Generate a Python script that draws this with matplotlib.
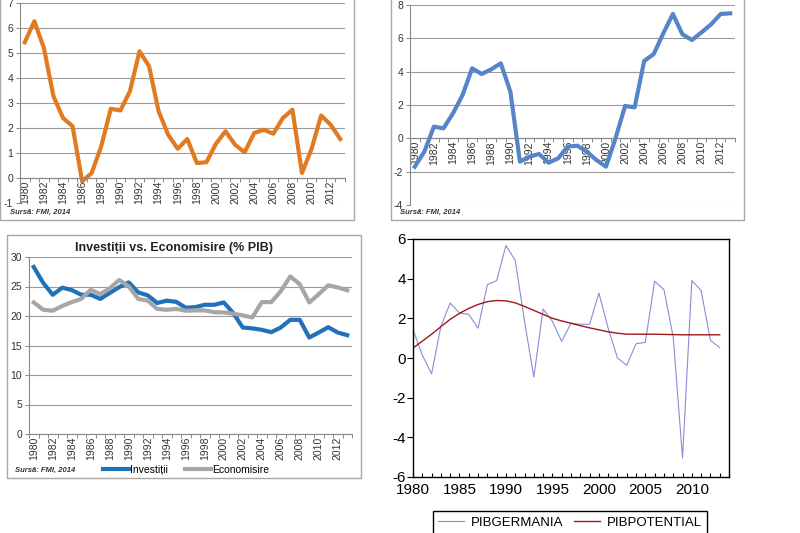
import matplotlib
matplotlib.use('Agg')
import matplotlib.pyplot as plt
from matplotlib.patches import Rectangle
from matplotlib.ticker import MultipleLocator

plt.rcParams['font.family'] = ['Liberation Sans', 'DejaVu Sans']
plt.rcParams['axes.unicode_minus'] = False

W, H = 800, 533

years = list(range(1980, 2014))

# sus stanga - inflatie
inflatie = [5.43, 6.27, 5.2, 3.27, 2.4, 2.07, -0.13, 0.2, 1.27, 2.77, 2.7, 3.47,
            5.07, 4.47, 2.67, 1.73, 1.17, 1.56, 0.6, 0.63, 1.37, 1.87, 1.33, 1.03,
            1.8, 1.93, 1.77, 2.4, 2.73, 0.2, 1.16, 2.5, 2.13, 1.56]

# sus dreapta - cont curent
cont_curent = [-1.7, -0.8, 0.7, 0.6, 1.5, 2.6, 4.2, 3.86, 4.14, 4.5, 2.8, -1.4,
               -1.1, -0.94, -1.46, -1.2, -0.5, -0.44, -0.8, -1.3, -1.7, 0.0,
               1.94, 1.86, 4.64, 5.06, 6.3, 7.46, 6.24, 5.9, 6.36, 6.84, 7.46, 7.5]

# jos stanga - investitii vs economisire
investitii = [28.3, 25.6, 23.6, 24.8, 24.4, 23.6, 23.6, 22.9, 23.9, 24.9, 25.7, 24.0,
              23.5, 22.2, 22.6, 22.4, 21.4, 21.5, 21.9, 21.9, 22.3, 20.5, 18.05, 17.9,
              17.66, 17.26, 18.05, 19.35, 19.35, 16.35, 17.2, 18.1, 17.2, 16.75]
economisire = [22.3, 21.05, 20.9, 21.7, 22.35, 22.9, 24.45, 23.7, 24.7, 26.1, 25.0, 22.9,
               22.6, 21.2, 21.05, 21.2, 20.9, 20.95, 20.95, 20.65, 20.6, 20.4, 20.1, 19.75,
               22.35, 22.35, 24.2, 26.7, 25.4, 22.3, 23.7, 25.2, 24.85, 24.35]

# jos dreapta - PIB efectiv vs potential
pib_germania = [1.43, 0.15, -0.8, 1.6, 2.77, 2.27, 2.2, 1.5, 3.7, 3.9, 5.67, 4.92,
                1.85, -0.96, 2.47, 1.85, 0.84, 1.76, 1.7, 1.7, 3.28, 1.5, 0.0, -0.37,
                0.72, 0.79, 3.87, 3.45, 1.05, -5.04, 3.9, 3.4, 0.89, 0.52]
pib_potential = [0.5, 0.85, 1.2, 1.58, 1.95, 2.25, 2.5, 2.7, 2.84, 2.9, 2.88, 2.78,
                 2.6, 2.4, 2.2, 2.0, 1.87, 1.75, 1.63, 1.52, 1.42, 1.32, 1.25, 1.2,
                 1.2, 1.2, 1.2, 1.19, 1.18, 1.17, 1.17, 1.17, 1.17, 1.17]

sursa = 'Sursă: FMI, 2014'


def rect(x0, y0, x1, y1):
    return [x0 / W, 1 - y1 / H, (x1 - x0) / W, (y1 - y0) / H]


def box(fig, x0, y0, x1, y1):
    fig.add_artist(Rectangle((x0 / W, 1 - y1 / H), (x1 - x0) / W, (y1 - y0) / H,
                             transform=fig.transFigure, fill=False,
                             ec='#a8a8a8', lw=1))


def excel_axes(ax, ymin, ymax, step, zero_axis=True):
    ax.set_xlim(1979.5, 2013.5)
    ax.set_ylim(ymin, ymax)
    ax.yaxis.set_major_locator(MultipleLocator(step))
    ax.set_xticks(range(1980, 2013, 2))
    ax.set_xticks([y + 0.5 for y in range(1979, 2014)], minor=True)
    ax.tick_params(axis='x', which='major', length=0, labelrotation=90,
                   labelsize=7.5, pad=2, labelcolor='#333333')
    ax.tick_params(axis='x', which='minor', length=3, color='#888888', width=0.7)
    ax.tick_params(axis='y', length=3, color='#888888', width=0.7, pad=2,
                   labelsize=7.5, labelcolor='#333333')
    for s in ['top', 'right']:
        ax.spines[s].set_visible(False)
    ax.spines['left'].set_color('#888888')
    ax.spines['bottom'].set_color('#888888')
    if zero_axis:
        ax.spines['bottom'].set_position(('data', 0))
    ax.grid(axis='y', color='#9a9a9a', lw=0.8)
    ax.set_axisbelow(True)


fig = plt.figure(figsize=(W / 100, H / 100), dpi=100)

# panou 1
box(fig, 0, -5, 354, 220)
ax1 = fig.add_axes(rect(20, 3, 345, 203))
excel_axes(ax1, -1, 7, 1)
ax1.plot(years, inflatie, color='#E27A22', lw=3, solid_joinstyle='round')
fig.text(10 / W, 1 - 212 / H, sursa, fontsize=5.5, style='italic', weight='bold',
         va='center', color='#333333')

# panou 2
box(fig, 391, -5, 744, 220)
ax2 = fig.add_axes(rect(410, 5, 735, 205))
excel_axes(ax2, -4, 8, 2)
ax2.plot(years, cont_curent, color='#5585C8', lw=3, solid_joinstyle='round')
fig.text(400 / W, 1 - 212 / H, sursa, fontsize=5.5, style='italic', weight='bold',
         va='center', color='#333333')

# panou 3
box(fig, 7, 235, 361, 478)
ax3 = fig.add_axes(rect(29, 257, 352, 434))
excel_axes(ax3, 0, 30, 5, zero_axis=False)
ax3.plot(years, investitii, color='#2170B8', lw=3, label='Investiții',
         solid_joinstyle='round')
ax3.plot(years, economisire, color='#A6A6A6', lw=3, label='Economisire',
         solid_joinstyle='round')
fig.text(174 / W, 1 - 248 / H, 'Investiții vs. Economisire (% PIB)',
         ha='center', va='center', weight='bold', fontsize=9, color='#222222')
fig.text(15 / W, 1 - 470 / H, sursa, fontsize=5.5, style='italic', weight='bold',
         va='center', color='#333333')
ax3.legend(loc='center left', bbox_to_anchor=(103 / W, 1 - 470 / H),
           bbox_transform=fig.transFigure, ncol=2, frameon=False,
           borderaxespad=0, borderpad=0, handlelength=2.5, handletextpad=0.05,
           columnspacing=1.7, fontsize=7.5)

# panou 4
ax4 = fig.add_axes(rect(413, 239, 729, 477))
ax4.plot(years, pib_germania, color='#8C8CD6', lw=0.8, label='PIBGERMANIA')
ax4.plot(years, pib_potential, color='#A01818', lw=1.0, label='PIBPOTENTIAL')
ax4.set_xlim(1980, 2014)
ax4.set_ylim(-6, 6)
ax4.set_xticks(range(1980, 2014, 5))
ax4.xaxis.set_minor_locator(MultipleLocator(1))
ax4.yaxis.set_major_locator(MultipleLocator(2))
ax4.tick_params(axis='x', which='both', direction='in', length=3, width=0.8,
                labelsize=11, pad=4)
ax4.tick_params(axis='y', direction='out', length=4, width=0.8, labelsize=11, pad=1)
for s in ax4.spines.values():
    s.set_linewidth(1.0)
leg = ax4.legend(loc='upper center', bbox_to_anchor=(570 / W, 1 - 511 / H),
                 bbox_transform=fig.transFigure, ncol=2, fancybox=False,
                 edgecolor='black', framealpha=1, borderaxespad=0, fontsize=9.5,
                 handlelength=2.0, columnspacing=0.8, handletextpad=0.5)
leg.get_frame().set_linewidth(1.0)

fig.savefig('out.png', dpi=100)
